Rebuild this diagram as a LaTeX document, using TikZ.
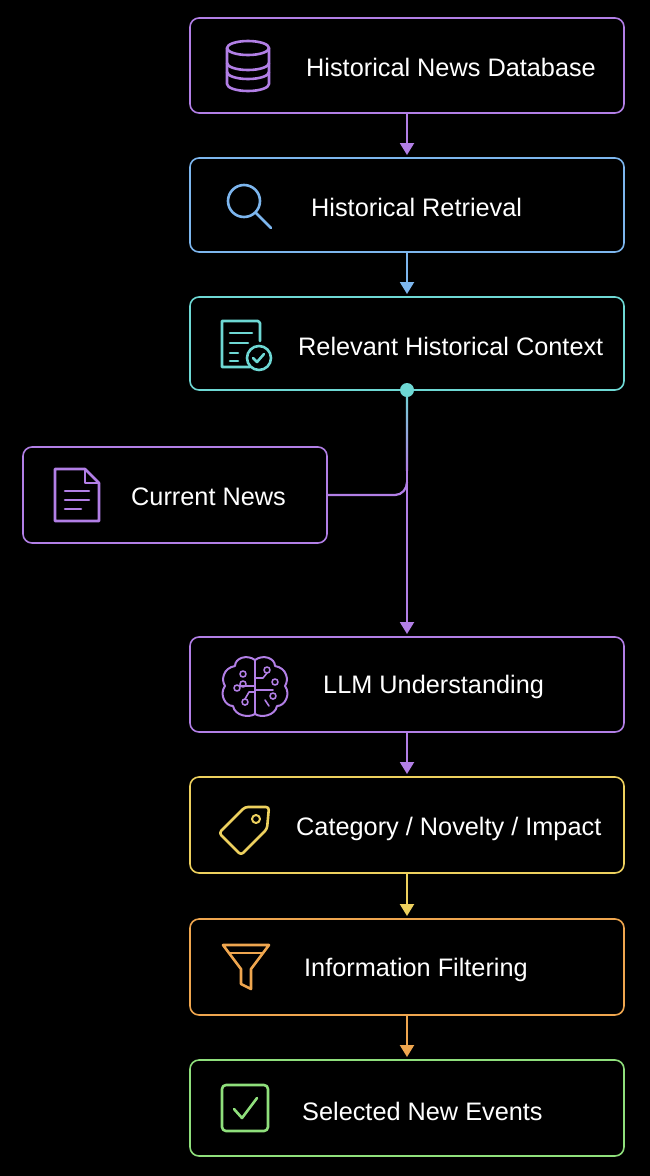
\documentclass[tikz,border=0pt]{standalone}
\usepackage{fontspec}
\setmainfont{Liberation Sans}
\usetikzlibrary{arrows.meta}
\definecolor{cpur}{HTML}{B27FE6}
\definecolor{cblu}{HTML}{7DB6EE}
\definecolor{ctea}{HTML}{6ED8D4}
\definecolor{cyel}{HTML}{EDD05E}
\definecolor{cora}{HTML}{EFA64F}
\definecolor{cgre}{HTML}{8FDF7C}
\begin{document}
\begin{tikzpicture}[x=1pt,y=-1pt,
  box/.style={draw=#1,line width=1.6pt,rounded corners=9pt},
  lbl/.style={anchor=west,text=white,font=\fontsize{25.3}{28}\selectfont,inner sep=0pt},
  ico/.style={draw=#1,line width=2.6pt,line cap=round,line join=round},
  arr/.style={draw=#1,line width=2.2pt,-{Triangle[length=12pt,width=14pt]}}]
\fill[black] (0,0) rectangle (650,1176);
\useasboundingbox (0,0) rectangle (650,1176);
% boxes
\draw[box=cpur] (190,18) rectangle (624,113);
\draw[box=cblu] (190,158) rectangle (624,252);
\draw[box=ctea] (190,297) rectangle (624,390);
\draw[box=cpur] (23,447) rectangle (327,543);
\draw[box=cpur] (190,637) rectangle (624,732);
\draw[box=cyel] (190,777) rectangle (624,873);
\draw[box=cora] (190,919) rectangle (624,1015);
\draw[box=cgre] (190,1060) rectangle (624,1156);
\node[lbl] (t1) at (306,67) {Historical News Database};
\node[lbl] (t2) at (311,207) {Historical Retrieval};
\node[lbl] (t3) at (298,346) {Relevant Historical Context};
\node[lbl] (t4) at (131,497) {Current News};
\node[lbl] (t5) at (323,687) {LLM Understanding};
\node[lbl] (t6) at (296,829) {Category / Novelty / Impact};
\node[lbl] (t7) at (304,970) {Information Filtering};
\node[lbl] (t8) at (302,1111) {Selected New Events};
% connectors
\coordinate (a1) at (407,113); \coordinate (a1e) at (407,155);
\coordinate (a2) at (407,252); \coordinate (a2e) at (407,294);
\coordinate (a3) at (407,390); \coordinate (a3e) at (407,634);
\coordinate (cn) at (327,495); \coordinate (jn) at (407,482);
\coordinate (a4) at (407,732); \coordinate (a4e) at (407,774);
\coordinate (a5) at (407,873); \coordinate (a5e) at (407,916);
\coordinate (a6) at (407,1015); \coordinate (a6e) at (407,1057);
\draw[arr=cpur] (a1) -- (a1e);
\draw[arr=cblu] (a2) -- (a2e);
\shade[top color=ctea,bottom color=cpur] (405.9,390) rectangle (408.1,470);
\draw[arr=cpur] (407,469) -- (a3e);
\fill[ctea] (a3) circle (7pt);
\draw[cpur,line width=2.2pt] (cn) -- (395,495) to[out=0,in=-90] (jn);
\draw[arr=cpur] (a4) -- (a4e);
\draw[arr=cyel] (a5) -- (a5e);
\draw[arr=cora] (a6) -- (a6e);
% database
\begin{scope}[shift={(248,66)}]
\draw[ico=cpur] (-21,-18) -- (-21,18) arc[x radius=21,y radius=7,start angle=180,end angle=0] -- (21,-18);
\draw[ico=cpur] (0,-18) ellipse[x radius=21,y radius=7];
\draw[ico=cpur] (-21,-3) arc[x radius=21,y radius=7,start angle=180,end angle=0];
\draw[ico=cpur] (-21,6) arc[x radius=21,y radius=7,start angle=180,end angle=0];
\end{scope}
% magnifier
\begin{scope}[shift={(246,203)}]
\draw[ico=cblu] (-2,-2) circle (16);
\draw[ico=cblu] (10,10) -- (25,25);
\end{scope}
% doc with check
\begin{scope}[shift={(244,345)}]
\draw[ico=ctea] (6,22) -- (-22,22) -- (-22,-24) -- (14,-24) -- (16,-22) -- (16,-4);
\draw[ico=ctea] (-14,-12) -- (8,-12) (-14,-2) -- (4,-2) (-14,8) -- (-6,8) (-14,16) -- (-6,16);
\draw[ico=ctea] (15,13) circle (12);
\draw[ico=ctea] (9,13) -- (13,17) -- (20,9);
\end{scope}
% doc
\begin{scope}[shift={(77,495)}]
\draw[ico=cpur] (-22,-26) -- (8,-26) -- (22,-12) -- (22,26) -- (-22,26) -- cycle;
\draw[ico=cpur] (8,-26) -- (8,-12) -- (22,-12);
\draw[ico=cpur] (-12,-4) -- (12,-4) (-12,5) -- (12,5) (-12,14) -- (4,14);
\end{scope}
% brain
\begin{scope}[shift={(255,686)}]
\draw[ico=cpur,line width=2pt] (0,-26) -- (0,28);
\draw[ico=cpur,line width=2pt] (0,-26) .. controls (-8,-32) and (-20,-28) .. (-20,-20) .. controls (-32,-18) and (-34,-6) .. (-30,0) .. controls (-36,8) and (-30,20) .. (-22,20) .. controls (-20,30) and (-6,32) .. (0,28);
\draw[ico=cpur,line width=2pt] (0,-26) .. controls (8,-32) and (20,-28) .. (20,-20) .. controls (32,-18) and (34,-6) .. (30,0) .. controls (36,8) and (30,20) .. (22,20) .. controls (20,30) and (6,32) .. (0,28);
\draw[ico=cpur,line width=1.6pt] (-12,-12) circle (3) (-18,2) circle (3) (-10,16) circle (3) (12,-16) circle (3) (20,-4) circle (3) (-12,-2) circle (3) (18,10) circle (3);
\draw[ico=cpur,line width=1.6pt] (0,0) -- (-14,0) (0,4) -- (18,4) (0,-8) -- (8,-8) -- (12,-13) (-10,13) -- (-6,6) -- (0,6) (10,14) -- (14,20);
\end{scope}
% tag
\begin{scope}[shift={(243,827)}]
\draw[ico=cyel,rounded corners=3pt] (26,-20) -- (24,2) -- (-2,28) -- (-24,6) -- (2,-20) -- cycle;
\draw[ico=cyel,line width=2pt] (13,-8) circle (4);
\end{scope}
% funnel
\begin{scope}[shift={(246,967)}]
\draw[ico=cora] (-23,-22) -- (23,-22) -- (5,2) -- (5,22) -- (-5,17) -- (-5,2) -- cycle;
\draw[ico=cora] (-17,-14) -- (17,-14);
\end{scope}
% check box
\begin{scope}[shift={(245,1108)}]
\draw[ico=cgre,rounded corners=4pt] (-23,-23) rectangle (23,23);
\draw[ico=cgre] (-11,1) -- (-3,10) -- (12,-10);
\end{scope}
\end{tikzpicture}
\end{document}
